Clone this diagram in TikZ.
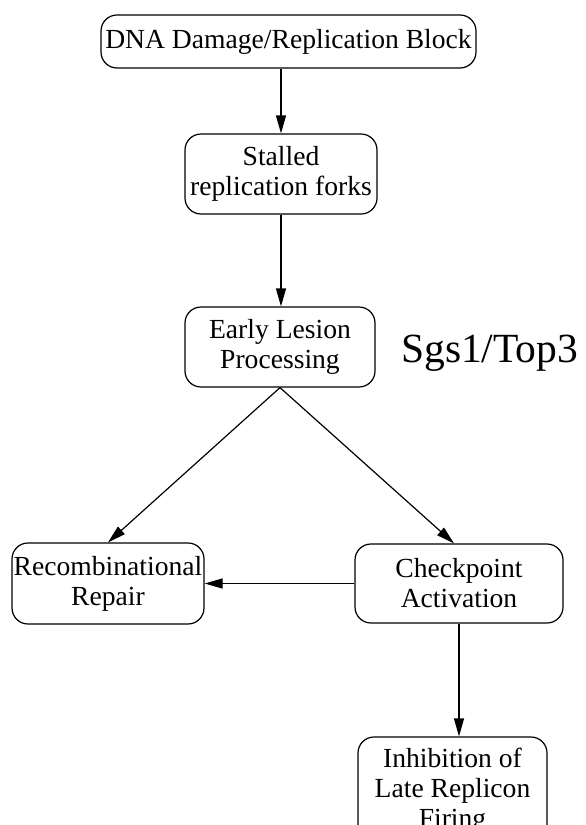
\documentclass[tikz,border=0pt]{standalone}
\usepackage{fontspec}
\setmainfont{Liberation Serif}
\usetikzlibrary{arrows.meta}
\begin{document}
\begin{tikzpicture}[x=1pt,y=-1pt,
  box/.style={draw, line width=1.2pt, rounded corners=16pt, inner sep=0pt,
    align=center, font=\fontsize{27.6}{30}\selectfont},
  arr/.style={line width=1.2pt, -{Triangle[length=18pt,width=10pt]}}]
\useasboundingbox (0,0) rectangle (586,825);
\clip (0,0) rectangle (586,825);
\fill[white] (0,0) rectangle (586,825);
\node[box, minimum width=375pt, minimum height=53pt] (b1) at (288.5,41.5) {DNA Damage/Replication Block};
\node[box, minimum width=192pt, minimum height=80pt] (b2) at (281,174) {Stalled\\replication forks};
\node[box, minimum width=190pt, minimum height=80pt] (b3) at (280,347) {Early Lesion\\Processing};
\node[box, minimum width=192pt, minimum height=81pt] (b4) at (108,583.5) {Recombinational\\Repair};
\node[box, minimum width=208pt, minimum height=79pt] (b5) at (459,583.5) {Checkpoint\\Activation};
\node[box, minimum width=189pt, minimum height=108pt] (b6) at (452.5,791) {Inhibition of\\Late Replicon\\Firing};
\node[anchor=base west, inner sep=0pt, font=\fontsize{41.5}{44}\selectfont] (sgs) at (401,362) {Sgs1/Top3};
\draw[arr] (b2.north |- b1.south) -- (b2.north);
\draw[arr] (b2.south) -- (b2.south |- b3.north);
\draw[arr] (b3.south) -- (b4.north);
\draw[arr] (b3.south) -- ([xshift=-5pt]b5.north);
\draw[arr] (b5.west) -- (b4.east);
\draw[arr] (b5.south) -- (b5.south |- b6.north);
\end{tikzpicture}
\end{document}
